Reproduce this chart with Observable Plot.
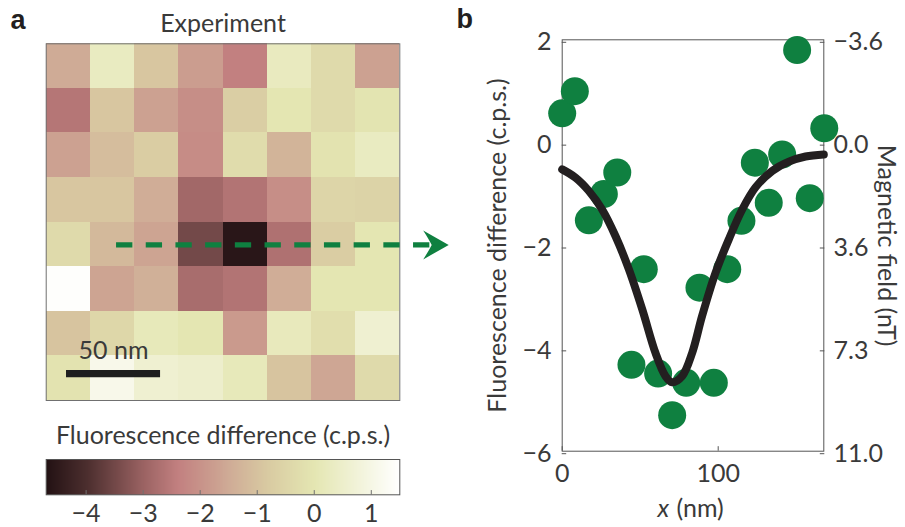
<!DOCTYPE html>
<html>
<head>
<meta charset="utf-8">
<script src="https://cdn.jsdelivr.net/npm/d3@7"></script>
<script src="https://cdn.jsdelivr.net/npm/@observablehq/plot@0.6"></script>
<style>
  html, body { margin: 0; padding: 0; background: #fff; }
  #fig { position: relative; width: 905px; height: 527px; overflow: hidden; background: #fff; }
</style>
</head>
<body>
<div id="fig"></div>
<script>
// ---------- Panel a: measured map (fluorescence difference, c.p.s.), rows top -> bottom ----------
const heatmapRow0 = [-1.5, 0.3, -0.9, -1.8, -2.4, 0.25, -0.35, -1.7];
const heatmapRow1 = [-2.6, -0.9, -1.7, -2.1, -0.7, 0.0, -0.35, -0.05];
const heatmapRow2 = [-1.7, -1.1, -0.75, -2.15, -0.3, -1.3, -0.1, 0.3];
const heatmapRow3 = [-0.9, -0.9, -1.45, -2.9, -2.65, -2.1, -0.5, -0.55];
const heatmapRow4 = [-0.35, -1.2, -1.65, -3.5, -4.6, -2.7, -0.75, 0.0];
const heatmapRow5 = [1.45, -1.65, -1.4, -2.8, -2.65, -1.45, 0.0, 0.0];
const heatmapRow6 = [-0.95, -0.45, 0.15, 0.0, -1.85, 0.2, -0.25, 0.6];
const heatmapRow7 = [-0.1, 1.1, 0.6, 0.5, 0.15, -0.95, -1.6, -0.35];
const heatmapRows = [heatmapRow0, heatmapRow1, heatmapRow2, heatmapRow3, heatmapRow4, heatmapRow5, heatmapRow6, heatmapRow7];
const pixelSizeNm = 23.5;
const imageSizeNm = 188;

// annotations of panel a (nm)
const scaleBarNm = [10.8, 60.8];
const scaleBarY = 173.8;
const scaleBarLabel = "50 nm";
const scaleBarLabelY = 165.9;
const arrowX = [37.4, 205.3];
const arrowTipX = 214;
const arrowY = 106;

// colour scale (c.p.s.)
const colorDomain = [-4.7, -4, -3, -2.4, -1.5, -0.8, 0, 1.5];
const colorRange = ["#231214", "#4b2e2e", "#9b6363", "#c28080", "#cfab96", "#d9cba2", "#e4e6b2", "#ffffff"];
const colorbarTicks = [-4, -3, -2, -1, 0, 1];

// ---------- Panel b: line profile ----------
const profileX = [0, 8.1, 17.1, 26.7, 35.3, 44.4, 52.3, 61.5, 70.5, 79.5, 88, 97.2, 105.8, 114.9, 123.5, 132.4, 141, 150.6, 158.7, 168];
const profileFluor = [0.57, 1.0, -1.51, -1.0, -0.58, -4.32, -2.46, -4.49, -5.30, -4.67, -2.82, -4.67, -2.46, -1.52, -0.39, -1.17, -0.23, 1.80, -1.08, 0.28];
const fitX = [0, 8.5, 17.1, 25.6, 34.2, 42.7, 51.3, 59.8, 66.2, 70.5, 76.9, 83.3, 89.7, 98.3, 106.8, 115.4, 123.9, 134.6, 145.3, 156, 167.7];
const fitFluor = [-0.52, -0.68, -0.94, -1.30, -1.82, -2.46, -3.24, -4.09, -4.54, -4.66, -4.54, -4.09, -3.37, -2.53, -1.88, -1.30, -0.87, -0.55, -0.37, -0.27, -0.23];
const fluorTicks = [2, 0, -2, -4, -6];
const magneticLabels = ["\u22123.6", "0.0", "3.6", "7.3", "11.0"];
const xTicks = [0, 100];
const xDomain = [0, 167.7];
const yDomain = [-6, 2];

// ---------- styling ----------
const green = "#0f8040";
const textColor = "#3a3a3a";
const font = "Lato, 'Open Sans', sans-serif";
const boldFont = "'Liberation Sans', Arial, sans-serif";
const fs = 25;
const intFormat = d3.format("d");

const color = {type: "linear", domain: colorDomain, range: colorRange, interpolate: "rgb"};
const cells = heatmapRows.flatMap((row, r) => row.map((v, c) => ({r, c, v})));
const points = profileX.map((x, i) => ({x, y: profileFluor[i]}));
const fit = fitX.map((x, i) => ({x, y: fitFluor[i]}));

function baseStyle(left, top) {
  return {position: "absolute", left: left + "px", top: top + "px", background: "transparent",
          overflow: "visible", fontFamily: font, fontSize: fs + "px", color: textColor, maxWidth: "none"};
}

const stealthArrow = {
  draw(ctx) {
    ctx.moveTo(0, 0);
    ctx.lineTo(-25.5, -14.5);
    ctx.quadraticCurveTo(-20, -6, -17, 0);
    ctx.quadraticCurveTo(-20, 6, -25.5, 14.5);
    ctx.closePath();
  }
};

const panelA = Plot.plot({
  width: 450, height: 410,
  marginLeft: 45.7, marginRight: 50.7, marginTop: 43.3, marginBottom: 10,
  x: {domain: [0, imageSizeNm], axis: null},
  y: {domain: [0, imageSizeNm], reverse: true, axis: null},
  color,
  style: baseStyle(0, 0),
  marks: [
    Plot.rect(cells, {
      x1: d => d.c * pixelSizeNm, x2: d => (d.c + 1) * pixelSizeNm,
      y1: d => d.r * pixelSizeNm, y2: d => (d.r + 1) * pixelSizeNm,
      fill: "v", shapeRendering: "crispEdges"
    }),
    Plot.frame({stroke: "#707070"}),
    Plot.ruleY([arrowY], {x1: arrowX[0], x2: arrowX[1], stroke: green, strokeWidth: 5.3, strokeDasharray: "16.3 13.4"}),
    Plot.dot([arrowTipX], {x: d => d, y: arrowY, symbol: stealthArrow, r: 10, fill: green, stroke: "none"}),
    Plot.ruleY([scaleBarY], {x1: scaleBarNm[0], x2: scaleBarNm[1], stroke: "#1e1e1e", strokeWidth: 7.3}),
    Plot.text([scaleBarLabel], {x: (scaleBarNm[0] + scaleBarNm[1]) / 2, y: scaleBarLabelY, text: d => d,
      textAnchor: "middle", lineAnchor: "bottom", fontSize: fs, fill: textColor}),
    Plot.text(["Experiment"], {frameAnchor: "top", dy: -12.3, text: d => d, textAnchor: "middle",
      lineAnchor: "bottom", fontSize: fs, fill: textColor}),
    Plot.text(["a"], {frameAnchor: "top-left", dx: -35.7, dy: -15.3, text: d => d, textAnchor: "start",
      lineAnchor: "bottom", fontSize: 27, fontWeight: "bold", fontFamily: boldFont, fill: "#231f20"})
  ]
});

const colorbar = Plot.plot({
  width: 450, height: 117,
  marginLeft: 45.7, marginRight: 50.7, marginTop: 49, marginBottom: 32.7,
  x: {domain: [colorDomain[0], colorDomain[colorDomain.length - 1]]},
  y: {domain: [0, 1], axis: null},
  color,
  style: baseStyle(0, 410),
  marks: [
    Plot.raster({fill: (x, y) => x, x1: colorDomain[0], x2: colorDomain[colorDomain.length - 1], y1: 0, y2: 1,
      width: 354, height: 1, imageRendering: "auto"}),
    Plot.ruleX(colorbarTicks, {x: d => d, y1: 0, y2: 0.12, stroke: "#707070"}),
    Plot.frame({stroke: "#555"}),
    Plot.axisX({ticks: colorbarTicks, tickFormat: intFormat, tickSize: 0, tickPadding: 9.7, label: null,
      fontSize: fs, fill: textColor}),
    Plot.text(["Fluorescence difference (c.p.s.)"], {frameAnchor: "top", dy: -15.7, text: d => d,
      textAnchor: "middle", lineAnchor: "bottom", fontSize: fs, fill: textColor})
  ]
});

const panelB = Plot.plot({
  width: 455, height: 527,
  marginLeft: 111.7, marginRight: 81.7, marginTop: 39.3, marginBottom: 76.3,
  x: {domain: xDomain},
  y: {domain: yDomain},
  style: baseStyle(450, 0),
  marks: [
    Plot.frame({stroke: "#555"}),
    Plot.axisY({anchor: "left", ticks: fluorTicks, tickFormat: intFormat, tickSize: -4.5, tickPadding: 15.2, dy: 2.5,
      label: null, fontSize: fs, fill: textColor, stroke: "#555"}),
    Plot.axisY({anchor: "right", ticks: fluorTicks, tickFormat: d => magneticLabels[fluorTicks.indexOf(d)],
      tickSize: -4.5, tickPadding: 14.2, dy: 2.5, label: null, fontSize: fs, fill: textColor, stroke: "#555"}),
    Plot.axisX({anchor: "bottom", ticks: xTicks, tickFormat: intFormat, tickSize: -4.5, tickPadding: 17.8,
      label: null, fontSize: fs, fill: textColor, stroke: "#555"}),
    Plot.dot(points, {x: "x", y: "y", r: 14, fill: green, stroke: "none"}),
    Plot.line(fit, {x: "x", y: "y", stroke: "#231f20", strokeWidth: 8, curve: "catmull-rom"}),
    Plot.text(["Fluorescence difference (c.p.s.)"], {frameAnchor: "left", dx: -64.7, rotate: -90, text: d => d,
      textAnchor: "middle", lineAnchor: "middle", fontSize: fs, fill: textColor}),
    Plot.text(["Magnetic field (nT)"], {frameAnchor: "right", dx: 62.5, rotate: 90, text: d => d,
      textAnchor: "middle", lineAnchor: "middle", fontSize: fs, fill: textColor}),
    Plot.text(["x"], {frameAnchor: "bottom", dx: -24, dy: 65.3, text: d => d, textAnchor: "end",
      lineAnchor: "bottom", fontStyle: "italic", fontSize: fs, fill: textColor}),
    Plot.text(["(nm)"], {frameAnchor: "bottom", dx: -16.5, dy: 65.3, text: d => d, textAnchor: "start",
      lineAnchor: "bottom", fontSize: fs, fill: textColor}),
    Plot.text(["b"], {frameAnchor: "top-left", dx: -105.7, dy: -12.3, text: d => d, textAnchor: "start",
      lineAnchor: "bottom", fontSize: 27, fontWeight: "bold", fontFamily: boldFont, fill: "#231f20"})
  ]
});

const fig = document.getElementById("fig");
fig.append(panelA, colorbar, panelB);
</script>
</body>
</html>
